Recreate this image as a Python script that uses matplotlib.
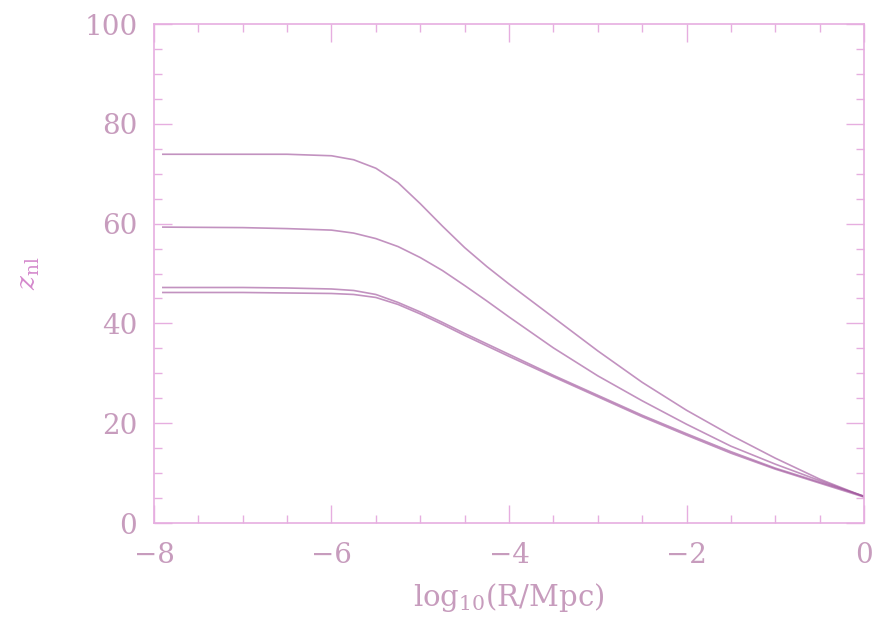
import numpy as np
import matplotlib
matplotlib.use("Agg")
from matplotlib import pyplot as plt
from matplotlib.ticker import MultipleLocator

# log10(R/Mpc) sample points, shared by all four curves
x_vals = [-7.9, -7.0, -6.5, -6.0, -5.75, -5.5, -5.25, -5.0, -4.75, -4.5,
          -4.25, -4.0, -3.5, -3.0, -2.5, -2.0, -1.5, -1.0, -0.5, 0.0]

# z_nl, top to bottom
z_top  = [73.9, 73.9, 73.9, 73.6, 72.8, 71.1, 68.2, 64.0, 59.5, 55.2,
          51.4, 47.9, 41.2, 34.5, 28.2, 22.6, 17.6, 13.0, 8.8, 5.3]
z_mid  = [59.3, 59.2, 59.0, 58.7, 58.1, 57.0, 55.4, 53.2, 50.6, 47.6,
          44.5, 41.3, 35.1, 29.5, 24.5, 19.8, 15.4, 11.8, 8.5, 5.3]
z_low1 = [47.2, 47.2, 47.1, 46.9, 46.6, 45.8, 44.2, 42.3, 40.2, 38.0,
          35.9, 33.8, 29.6, 25.6, 21.6, 17.9, 14.3, 11.0, 8.2, 5.4]
z_low2 = [46.2, 46.2, 46.1, 46.0, 45.8, 45.2, 43.8, 41.9, 39.8, 37.6,
          35.5, 33.4, 29.3, 25.3, 21.3, 17.6, 14.0, 10.8, 8.0, 5.2]

curves = [z_top, z_mid, z_low1, z_low2]

AXIS_COL = "#e6aee0"
TEXT_COL = "#c79cbd"
LINE_COL = "#a2589e"

plt.rcParams['font.family'] = ['DejaVu Serif']
plt.rcParams['mathtext.fontset'] = 'dejavuserif'

fig = plt.figure(figsize=(8.88, 6.29), dpi=100)
ax = fig.add_axes([0.1734, 0.1685, 0.7996, 0.7933])

for zs in curves:
    ax.plot(x_vals, zs, color=LINE_COL, lw=1.2, alpha=0.65)

ax.set_xlim(-8, 0)
ax.set_ylim(0, 100)
ax.xaxis.set_major_locator(MultipleLocator(2))
ax.xaxis.set_minor_locator(MultipleLocator(0.5))
ax.yaxis.set_major_locator(MultipleLocator(20))
ax.yaxis.set_minor_locator(MultipleLocator(5))

ax.tick_params(which='both', direction='in', top=True, right=True,
               color=AXIS_COL, labelcolor=TEXT_COL, labelsize=20)
ax.tick_params(which='major', length=13, width=1)
ax.tick_params(which='minor', length=6, width=1)
ax.tick_params(axis='x', pad=14)
ax.tick_params(axis='y', pad=12)
for sp in ax.spines.values():
    sp.set_color(AXIS_COL)
    sp.set_linewidth(1.2)

ax.set_xticks([-8, -6, -4, -2, 0])
ax.set_xticklabels(['\u22128', '\u22126', '\u22124', '\u22122', '0'])

ax.set_xlabel(r'log$_{10}$(R/Mpc)', color=TEXT_COL, fontsize=21, labelpad=8)
ax.set_ylabel(r'$z_{\rm nl}$', color='#d488cc', fontsize=19)
ax.yaxis.set_label_coords(-0.158, 0.5)

fig.savefig('out.png', dpi=100)
